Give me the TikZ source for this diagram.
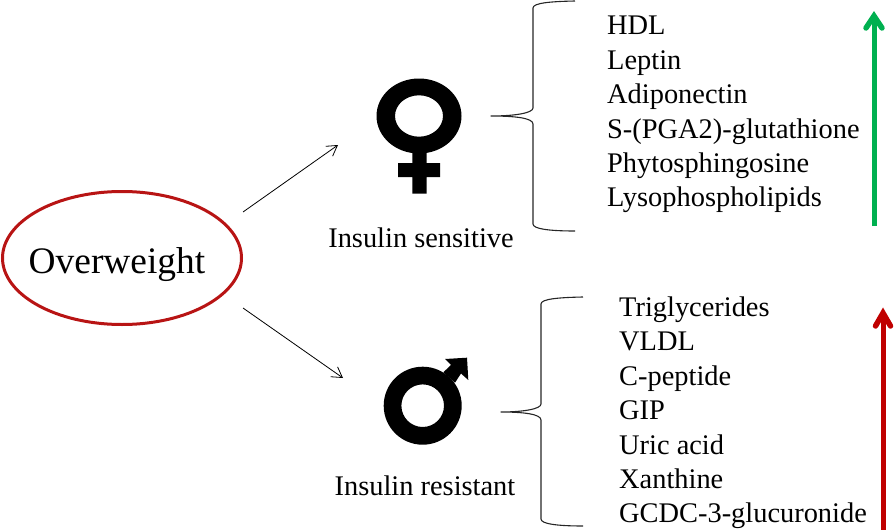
\documentclass[tikz,border=0pt]{standalone}
\usepackage{fontspec}
\setmainfont{Liberation Serif}
\usetikzlibrary{arrows.meta,shapes.geometric}
\definecolor{dred}{HTML}{C00000}
\definecolor{dgreen}{HTML}{00B050}
\definecolor{ellred}{HTML}{B81414}
\tikzset{
  listtext/.style={anchor=base west,inner sep=0pt,font=\fontsize{28.4}{32}\selectfont},
  captext/.style={anchor=base,inner sep=0pt,font=\fontsize{28.4}{32}\selectfont},
  thinarrow/.style={draw=black,line width=0.8pt,-{Straight Barb[length=10pt,width=12pt,line width=0.8pt]}},
  bracestyle/.style={draw=black!85,line width=1.1pt,line join=round},
  updown/.style={line width=5pt,line cap=butt},
  uphead/.style={line width=5.5pt,line cap=round,line join=miter},
  symbolfill/.style={fill=black,draw=none},
}
\begin{document}
\begin{tikzpicture}[x=1pt,y=-1pt]
\useasboundingbox (0,0) rectangle (895,530);
\node[draw=ellred,line width=3pt,ellipse,minimum width=239pt,minimum height=133pt,inner sep=0pt] (over) at (122,258) {};
\node[anchor=base,inner sep=0pt,font=\fontsize{37.4}{42}\selectfont] (overlabel) at (117,273.5) {Overweight};
% free ends
\coordinate (a1s) at (243,212); \coordinate (a1e) at (338,145);
\coordinate (a2s) at (243,308); \coordinate (a2e) at (343,378);
\draw[thinarrow] (a1s) -- (a1e);
\draw[thinarrow] (a2s) -- (a2e);
% female
\path[symbolfill,even odd rule] (419,116) ellipse [x radius=42.5,y radius=37.5] (419,116) ellipse [x radius=24,y radius=20.7];
\path[symbolfill] (412.3,152) -- (426.7,152) -- (426.7,163) -- (440,163) -- (440,177) -- (426.7,177) -- (426.7,193.5) -- (412.3,193.5) -- (412.3,177) -- (398,177) -- (398,163) -- (412.3,163) -- cycle;
% male
\path[symbolfill,even odd rule] (422.7,405.7) circle [radius=39] (422.7,405.7) circle [radius=21.3];
\path[symbolfill] (443.3,372.3) -- (451,365) -- (445,359) -- (467,357.7) -- (468.3,380) -- (461,373.5) -- (455,382.7) -- cycle;
\node[captext] (sens) at (421,247) {Insulin sensitive};
\node[captext] (res) at (425,495) {Insulin resistant};
% upper brace
\coordinate (b1t) at (575,1); \coordinate (b1m) at (491,116); \coordinate (b1b) at (575,231);
\draw[bracestyle] (b1t) .. controls (550,1.5) and (533,3) .. (533,8) -- (533,108) .. controls (533,113) and (515,116) .. (b1m) .. controls (515,116) and (533,118) .. (533,124) -- (533,224) .. controls (533,229) and (550,231) .. (b1b);
% lower brace
\coordinate (b2t) at (583,297); \coordinate (b2m) at (501,412); \coordinate (b2b) at (583,526);
\draw[bracestyle] (b2t) .. controls (558,297.5) and (541,299) .. (541,304) -- (541,404) .. controls (541,409) and (523,412) .. (b2m) .. controls (523,412) and (541,414) .. (541,420) -- (541,519) .. controls (541,524) and (558,526) .. (b2b);
% lists
\node[listtext] (u1) at (607,34.5) {HDL};
\node[listtext] (u2) at (607,69) {Leptin};
\node[listtext] (u3) at (607,103.5) {Adiponectin};
\node[listtext] (u4) at (607,138) {S-(PGA2)-glutathione};
\node[listtext] (u5) at (607,172) {Phytosphingosine};
\node[listtext] (u6) at (607,206.5) {Lysophospholipids};
\node[listtext] (l1) at (619,316) {Triglycerides};
\node[listtext] (l2) at (619,350.5) {VLDL};
\node[listtext] (l3) at (619,385) {C-peptide};
\node[listtext] (l4) at (619,419.5) {GIP};
\node[listtext] (l5) at (619,454) {Uric acid};
\node[listtext] (l6) at (619,488) {Xanthine};
\node[listtext] (l7) at (619,522.5) {GCDC-3-glucuronide};
% trend arrows
\coordinate (gb) at (874,226); \coordinate (gt) at (874,16);
\coordinate (rb) at (883,530); \coordinate (rt) at (883,313);
\draw[dgreen,updown] (gb) -- (gt);
\draw[dgreen,uphead] (866,28) -- (gt) -- (882,28);
\draw[dred,updown] (rb) -- (rt);
\draw[dred,uphead] (875.5,326) -- (rt) -- (890.5,326);
\end{tikzpicture}
\end{document}
